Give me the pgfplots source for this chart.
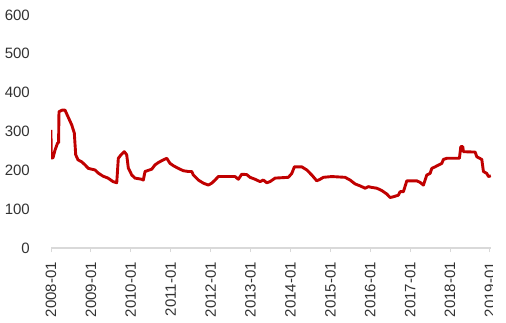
\documentclass[border=0pt]{standalone}
\usepackage{pgfplots}
\pgfplotsset{compat=1.18}
\usepackage{fontspec}
\setmainfont{Liberation Sans}
\definecolor{lred}{RGB}{192,0,0}
\definecolor{axgray}{RGB}{217,217,217}
\definecolor{txt}{RGB}{50,50,50}
\begin{document}
\begin{tikzpicture}[x=1bp,y=1bp]
\useasboundingbox (0,0) rectangle (506,322);
\clip (0,0) rectangle (492.5,322);
\begin{axis}[
  at={(51bp,74bp)}, anchor=south west,
  scale only axis, width=440.2bp, height=233bp,
  xmin=2008, xmax=2019.03, ymin=0, ymax=600,
  axis x line*=bottom, axis y line*=left,
  separate axis lines,
  x axis line style={draw=axgray, line width=1.2bp},
  y axis line style={draw=none},
  xtick={2008,2009,...,2019},
  xticklabels={2008-01,2009-01,2010-01,2011-01,2012-01,2013-01,2014-01,2015-01,2016-01,2017-01,2018-01,2019-01},
  x tick style={draw=axgray, line width=1bp},
  tick align=outside, major tick length=4bp,
  ytick={0,100,...,600},
  y tick style={draw=none},
  ticklabel style={font=\fontsize{15bp}{18bp}\selectfont, text=txt},
  /pgf/number format/assume math mode=true,
  xticklabel style={rotate=90, anchor=east, inner sep=0pt},
  xticklabel shift=10bp,
  yticklabel style={inner sep=0pt},
  yticklabel shift=17bp,
]
\addplot[color=lred, line width=2.9bp, line join=round] coordinates {
(2008.000,304) (2008.004,232) (2008.05,232) (2008.10,252) (2008.168,271) (2008.19,271)
(2008.20,351) (2008.276,355) (2008.351,355) (2008.426,338) (2008.519,317) (2008.584,296)
(2008.619,240) (2008.677,227) (2008.769,222) (2008.852,214) (2008.935,205) (2009.103,201)
(2009.185,193) (2009.303,185) (2009.429,180) (2009.554,171) (2009.647,168) (2009.687,231)
(2009.754,240) (2009.837,248) (2009.897,240) (2009.937,206) (2010.023,188) (2010.105,180)
(2010.273,177) (2010.313,175) (2010.356,197) (2010.524,203) (2010.606,214) (2010.689,220)
(2010.815,227) (2010.900,231) (2010.982,218) (2011.065,212) (2011.190,205) (2011.316,199)
(2011.441,197) (2011.526,197) (2011.566,188) (2011.692,175) (2011.817,167) (2011.942,162)
(2012.028,167) (2012.110,175) (2012.193,184) (2012.612,184) (2012.694,177) (2012.779,190)
(2012.905,189) (2012.987,182) (2013.113,177) (2013.238,171) (2013.321,175) (2013.406,168)
(2013.489,171) (2013.614,180) (2013.947,182) (2014.033,192) (2014.098,209) (2014.283,209)
(2014.409,201) (2014.534,188) (2014.659,173) (2014.742,177) (2014.825,182) (2015.035,184)
(2015.368,182) (2015.494,175) (2015.619,165) (2015.744,160) (2015.870,154) (2015.952,158)
(2016.038,156) (2016.163,154) (2016.288,148) (2016.414,139) (2016.496,130) (2016.579,132)
(2016.704,136) (2016.747,145) (2016.830,145) (2016.915,173) (2017.165,173) (2017.248,169)
(2017.331,162) (2017.416,188) (2017.499,192) (2017.541,205) (2017.624,209) (2017.792,218)
(2017.832,228) (2017.917,231) (2018.233,231) (2018.268,261) (2018.318,261) (2018.333,248)
(2018.627,247) (2018.669,235) (2018.794,228) (2018.835,197) (2018.920,192) (2018.960,184)
(2019.020,186)
};
\end{axis}
\end{tikzpicture}
\end{document}
